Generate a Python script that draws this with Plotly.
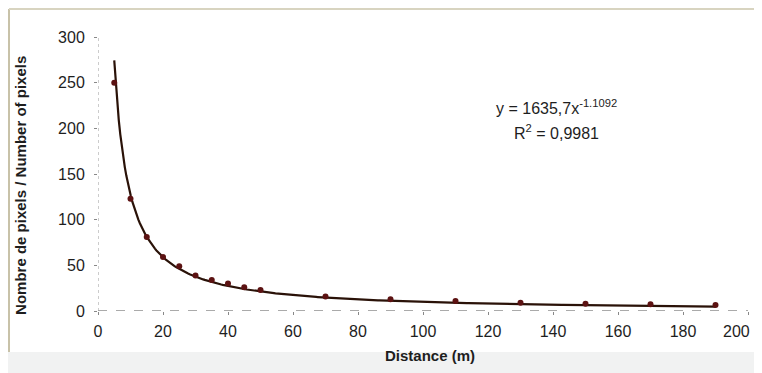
import numpy as np
import plotly.graph_objects as go

# Measured points
distance_m = [5, 10, 15, 20, 25, 30, 35, 40, 45, 50, 70, 90, 110, 130, 150, 170, 190]
pixel_count = [250, 123, 81, 59, 49, 39, 34, 30, 26, 23, 16, 13, 11, 9, 8, 7.5, 6.5]

# Power trend line as printed on the chart
trend_coef = 1635.7
trend_exp = -1.1092
r_squared = "0,9981"

x_ticks = [0, 20, 40, 60, 80, 100, 120, 140, 160, 180, 200]
y_ticks = [0, 50, 100, 150, 200, 250, 300]

trend_x = np.linspace(min(distance_m), max(distance_m), 400)
trend_y = trend_coef * trend_x ** trend_exp

FONT = "Liberation Sans, Arial, sans-serif"
TXT = "#1e1e1e"

fig = go.Figure()
fig.add_trace(go.Scatter(
    x=trend_x, y=trend_y, mode="lines",
    line=dict(color="#2a1208", width=2.2), hoverinfo="skip", showlegend=False,
))
fig.add_trace(go.Scatter(
    x=distance_m, y=pixel_count, mode="markers",
    marker=dict(color="#5c1212", size=6), showlegend=False,
))

axis_common = dict(
    showgrid=False, zeroline=False, showline=False, automargin=False,
    ticks="outside", ticklen=3, tickcolor="#888888",
    tickfont=dict(family=FONT, size=16, color=TXT),
)
# last x tick label is placed as an annotation so it stays inside the visible page
x_ticktext = [str(v) for v in x_ticks[:-1]] + [""]
fig.update_xaxes(range=[0, 200], tickvals=x_ticks, ticktext=x_ticktext, ticklabelstandoff=3,
                 **axis_common)
fig.update_yaxes(range=[0, 300], tickvals=y_ticks, ticklabelstandoff=6,
                 **axis_common)

shapes = [
    # dashed x-axis line
    dict(type="line", xref="x", yref="y", x0=0, x1=200, y0=0, y1=0,
         line=dict(color="#555555", width=1, dash="dash")),
    # dotted y-axis line
    dict(type="line", xref="x", yref="y", x0=0, x1=0, y0=0, y1=300,
         line=dict(color="#999999", width=1, dash="dot")),
    # scanned frame: left and top borders
    dict(type="line", xref="paper", yref="paper", x0=-0.1369, x1=-0.1369, y0=-0.15, y1=1.102,
         line=dict(color="#c8c2a8", width=2)),
    dict(type="line", xref="paper", yref="paper", x0=-0.1369, x1=1.0215, y0=1.102, y1=1.102,
         line=dict(color="#d8d4c0", width=2)),
    # grey strip at bottom
    dict(type="rect", xref="paper", yref="paper", x0=-0.14, x1=1.0215, y0=-0.235, y1=-0.15,
         line=dict(width=0), fillcolor="#f1f2f2", layer="below"),
]

annotations = [
    dict(xref="x", yref="y", x=141, y=223,
         text="y = 1635,7x<sup>-1.1092</sup>", showarrow=False,
         font=dict(family=FONT, size=16, color=TXT)),
    dict(xref="x", yref="y", x=141, y=196,
         text="R<sup>2</sup> = " + r_squared, showarrow=False,
         font=dict(family=FONT, size=16, color=TXT)),
    # last x tick label
    dict(xref="paper", yref="paper", x=1.0055, y=-0.038, xanchor="right", yanchor="top",
         text=str(x_ticks[-1]), showarrow=False,
         font=dict(family=FONT, size=16, color=TXT)),
    # axis titles
    dict(xref="paper", yref="paper", x=0.511, y=-0.162, xanchor="center", yanchor="middle",
         text="<b>Distance (m)</b>", showarrow=False,
         font=dict(family=FONT, size=15, color=TXT)),
    dict(xref="paper", yref="paper", x=-0.1185, y=0.46, xanchor="center", yanchor="middle",
         text="<b>Nombre de pixels / Number of pixels</b>", textangle=-90, showarrow=False,
         font=dict(family=FONT, size=15, color=TXT)),
]

fig.update_layout(
    width=754, height=365,
    margin=dict(l=90, r=14, t=29, b=62),
    paper_bgcolor="white", plot_bgcolor="white",
    shapes=shapes, annotations=annotations,
)

fig.write_html("out.html")
